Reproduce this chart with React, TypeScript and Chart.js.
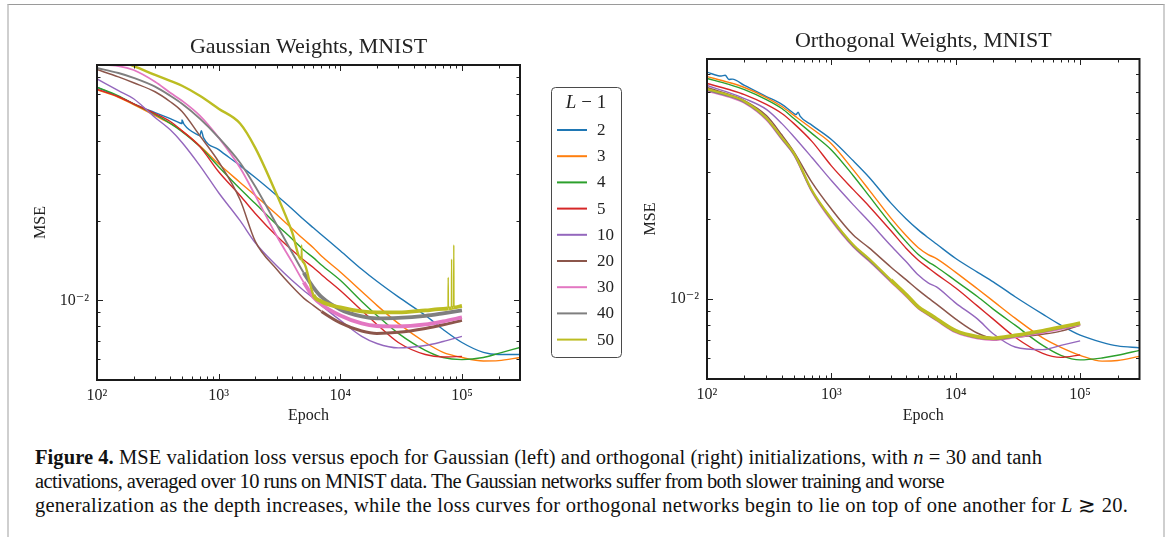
import React, { useEffect, useLayoutEffect, useRef } from "react";
import { Chart, registerables } from "chart.js";

Chart.register(...registerables);

const SERIF = '"Liberation Serif", "Times New Roman", "DejaVu Serif", serif';
const INK = "#222222";

// Epochs at which every validation-loss curve is sampled.
const EPOCHS = [
  100, 150, 200, 300, 400, 500, 700, 1000, 1500, 2000, 3000, 4000, 5000, 6000, 7000,
  10000, 15000, 20000, 30000, 50000, 70000, 100000, 150000, 200000, 300000,
];

const DEPTH_LABELS = ["2", "3", "4", "5", "10", "20", "30", "40", "50"];
const DEPTH_COLORS = [
  "#1f77b4", "#ff7f0e", "#2ca02c", "#d62728", "#9467bd",
  "#8c564b", "#e377c2", "#7f7f7f", "#bcbd22",
];

const X_TICK_EXPONENTS = [2, 3, 4, 5];
const X_TICK_TEXT = ["10²", "10³", "10⁴", "10⁵"];
const Y_TICK_EXPONENTS = [-2];
const Y_TICK_TEXT = ["10⁻²"];

// Gaussian initialisation: MSE per depth (L - 1)
const GAUSS_L2 = [0.0639, 0.0588, 0.0553, 0.0512, 0.0486, 0.0466, 0.0419, 0.0371, 0.0323, 0.0291, 0.0249, 0.0222, 0.0202, 0.0188, 0.0177, 0.0154, 0.0131, 0.0118, 0.0103, 0.00877, 0.00776, 0.00693, 0.00636, 0.00624, 0.00624];
const GAUSS_L3 = [0.0625, 0.0585, 0.0549, 0.0499, 0.0466, 0.0437, 0.0384, 0.0328, 0.0279, 0.0249, 0.0211, 0.0187, 0.0170, 0.0158, 0.0147, 0.0128, 0.0108, 0.00957, 0.00818, 0.00693, 0.00636, 0.00608, 0.00590, 0.00592, 0.00608];
const GAUSS_L4 = [0.0639, 0.0593, 0.0553, 0.0504, 0.0466, 0.0434, 0.0381, 0.0320, 0.0264, 0.0232, 0.0193, 0.0171, 0.0155, 0.0145, 0.0136, 0.0119, 0.00990, 0.00877, 0.00750, 0.00647, 0.00608, 0.00597, 0.00608, 0.00630, 0.00664];
const GAUSS_L5 = [0.0628, 0.0588, 0.0553, 0.0508, 0.0474, 0.0437, 0.0381, 0.0306, 0.0249, 0.0213, 0.0175, 0.0155, 0.0142, 0.0133, 0.0125, 0.0109, 0.00916, 0.00811, 0.00693, 0.00624, 0.00611, 0.00614];
const GAUSS_L10 = [0.0687, 0.0620, 0.0578, 0.0491, 0.0441, 0.0395, 0.0323, 0.0255, 0.0200, 0.0165, 0.0135, 0.0119, 0.0109, 0.0102, 0.00957, 0.00840, 0.00731, 0.00687, 0.00661, 0.00675, 0.00699, 0.00731];
const GAUSS_L20 = [0.0745, 0.0699, 0.0664, 0.0614, 0.0563, 0.0517, 0.0419, 0.0334, 0.0240, 0.0167, 0.0131, 0.0113, 0.0102, 0.00957, 0.00908, 0.00822, 0.00766, 0.00750, 0.00757, 0.00783, 0.00808, 0.00840];
const GAUSS_L30 = [0.0778, 0.0768, 0.0742, 0.0670, 0.0609, 0.0568, 0.0499, 0.0412, 0.0317, 0.0249, 0.0175, 0.0140, 0.0117, 0.0103, 0.00965, 0.00877, 0.00818, 0.00800, 0.00797, 0.00811, 0.00833, 0.00862];
const GAUSS_L40 = [0.0755, 0.0723, 0.0693, 0.0642, 0.0593, 0.0553, 0.0486, 0.0412, 0.0331, 0.0269, 0.0193, 0.0152, 0.0127, 0.0112, 0.0103, 0.00924, 0.00870, 0.00855, 0.00858, 0.00874, 0.00893, 0.00916];
const GAUSS_L50 = [0.0831, 0.0803, 0.0768, 0.0711, 0.0675, 0.0647, 0.0593, 0.0530, 0.0466, 0.0377, 0.0251, 0.0182, 0.0139, 0.0105, 0.00990, 0.00940, 0.00908, 0.00900, 0.00900, 0.00916, 0.00928, 0.00953];
// Isolated loss spikes of the deepest Gaussian network
const GAUSS_L50_SPIKE_EPOCHS = [4760, 4810, 4860, 76800, 77100, 77400, 81900, 82200, 82500, 85400, 85700, 86000];
const GAUSS_L50_SPIKE_MSE = [0.0143, 0.0162, 0.0142, 0.00932, 0.0122, 0.00932, 0.00937, 0.0143, 0.00937, 0.0094, 0.0162, 0.0094];
// Small bumps on the shallowest Gaussian network
const GAUSS_L2_BUMP_EPOCHS = [480, 500, 520, 690, 720, 750];
const GAUSS_L2_BUMP_MSE = [0.0468, 0.0480, 0.0462, 0.0420, 0.0438, 0.0412];

// Orthogonal initialisation: MSE per depth (L - 1)
const ORTHO_L2 = [0.0714, 0.0670, 0.0636, 0.0578, 0.0540, 0.0499, 0.0450, 0.0398, 0.0331, 0.0288, 0.0230, 0.0200, 0.0182, 0.0170, 0.0161, 0.0142, 0.0126, 0.0116, 0.0102, 0.00877, 0.00797, 0.00731, 0.00687, 0.00666, 0.00655];
const ORTHO_L3 = [0.0687, 0.0653, 0.0625, 0.0573, 0.0530, 0.0491, 0.0437, 0.0384, 0.0306, 0.0258, 0.0202, 0.0173, 0.0156, 0.0147, 0.0142, 0.0126, 0.0109, 0.00982, 0.00847, 0.00714, 0.00658, 0.00614, 0.00584, 0.00587, 0.00608];
const ORTHO_L4 = [0.0676, 0.0642, 0.0614, 0.0563, 0.0521, 0.0478, 0.0419, 0.0364, 0.0291, 0.0245, 0.0192, 0.0164, 0.0147, 0.0138, 0.0132, 0.0117, 0.0102, 0.00916, 0.00797, 0.00669, 0.00614, 0.00590, 0.00600, 0.00614, 0.00641];
const ORTHO_L5 = [0.0647, 0.0614, 0.0588, 0.0540, 0.0499, 0.0457, 0.0391, 0.0317, 0.0258, 0.0224, 0.0181, 0.0155, 0.0140, 0.0131, 0.0124, 0.0110, 0.00940, 0.00840, 0.00718, 0.00624, 0.00603, 0.00616];
const ORTHO_L10 = [0.0636, 0.0598, 0.0568, 0.0517, 0.0457, 0.0408, 0.0340, 0.0279, 0.0226, 0.0196, 0.0159, 0.0138, 0.0123, 0.0115, 0.0111, 0.00965, 0.00840, 0.00740, 0.00660, 0.00645, 0.00669, 0.00696];
const ORTHO_L20 = [0.0625, 0.0588, 0.0558, 0.0490, 0.0414, 0.0358, 0.0274, 0.0218, 0.0174, 0.0156, 0.0132, 0.0118, 0.0108, 0.0101, 0.00957, 0.00840, 0.00743, 0.00714, 0.00718, 0.00737, 0.00757, 0.00797];
const ORTHO_L30 = [0.0606, 0.0576, 0.0546, 0.0472, 0.0398, 0.0348, 0.0252, 0.0197, 0.0157, 0.0139, 0.0116, 0.0102, 0.00920, 0.00870, 0.00830, 0.00748, 0.00710, 0.00701, 0.00717, 0.00746, 0.00770, 0.00798];
const ORTHO_L40 = [0.0611, 0.0580, 0.0550, 0.0476, 0.0401, 0.0350, 0.0254, 0.0199, 0.0158, 0.0140, 0.0117, 0.0103, 0.00928, 0.00876, 0.00836, 0.00754, 0.00715, 0.00706, 0.00724, 0.00754, 0.00778, 0.00806];
const ORTHO_L50 = [0.0616, 0.0585, 0.0555, 0.0480, 0.0405, 0.0354, 0.0256, 0.0201, 0.0160, 0.0142, 0.0118, 0.0104, 0.00935, 0.00884, 0.00843, 0.00760, 0.00721, 0.00712, 0.00730, 0.00760, 0.00784, 0.00812];
// Early bumps on the shallowest orthogonal network
const ORTHO_L2_BUMP_EPOCHS = [130, 140, 160, 520, 540, 560];
const ORTHO_L2_BUMP_MSE = [0.0690, 0.0695, 0.0672, 0.0494, 0.0505, 0.0488];

// Caption lines and the right edge each line reaches.
const CAPTION_RIGHT_EDGES = [1042, 944, 1128];

type Stroke = { base: number; flat: number; from: number };
type Extra = { x: number[]; y: number[] };

const GAUSS_STROKES: Stroke[] = [
  { base: 1.4, flat: 1.4, from: 0 },
  { base: 1.4, flat: 1.4, from: 0 },
  { base: 1.4, flat: 1.4, from: 0 },
  { base: 1.4, flat: 1.4, from: 0 },
  { base: 1.4, flat: 1.4, from: 0 },
  { base: 1.5, flat: 3.0, from: 7000 },
  { base: 1.8, flat: 3.8, from: 5000 },
  { base: 1.9, flat: 3.8, from: 5000 },
  { base: 2.4, flat: 3.8, from: 6000 },
];
const ORTHO_STROKES: Stroke[] = [
  { base: 1.4, flat: 1.4, from: 0 },
  { base: 1.4, flat: 1.4, from: 0 },
  { base: 1.4, flat: 1.4, from: 0 },
  { base: 1.4, flat: 1.4, from: 0 },
  { base: 1.4, flat: 1.4, from: 0 },
  { base: 1.5, flat: 1.5, from: 0 },
  { base: 1.6, flat: 1.8, from: 5000 },
  { base: 1.8, flat: 2.2, from: 5000 },
  { base: 2.2, flat: 3.6, from: 3000 },
];

function buildDatasets(series: number[][], strokes: Stroke[], extras: Record<number, Extra>) {
  return series.map((values, i) => {
    const pts = values.map((y, k) => ({ x: EPOCHS[k], y }));
    const ex = extras[i];
    if (ex) ex.x.forEach((x, k) => pts.push({ x, y: ex.y[k] }));
    pts.sort((a, b) => a.x - b.x);
    const s = strokes[i];
    return {
      label: DEPTH_LABELS[i],
      data: pts,
      borderColor: DEPTH_COLORS[i],
      backgroundColor: DEPTH_COLORS[i],
      borderWidth: s.base,
      borderJoinStyle: "round",
      pointRadius: 0,
      fill: false,
      order: series.length - i,
      cubicInterpolationMode: "monotone",
      segment: {
        borderWidth: (ctx: any) => {
          // narrow, sharp excursions (loss spikes) stay thin
          const a = ctx.p0.parsed;
          const b = ctx.p1.parsed;
          const dx = b.x / a.x;
          if (dx < 1.02 && Math.abs(Math.log(b.y / a.y)) > 0.1) return 1.4;
          return a.x >= s.from ? s.flat : s.base;
        },
      },
    };
  });
}

function powerLabel(value: number, exps: number[], texts: string[]) {
  const lg = Math.log10(value);
  const r = Math.round(lg);
  if (Math.abs(lg - r) > 1e-6) return "";
  const idx = exps.indexOf(r);
  return idx >= 0 ? texts[idx] : "";
}

// Inward ticks on all four sides plus the dark axes frame.
const axesFramePlugin = {
  id: "axesFrame",
  afterDatasetsDraw(chart: any) {
    const { ctx, chartArea } = chart;
    const { left, right, top, bottom } = chartArea;
    const xs = chart.scales.x;
    const ys = chart.scales.y;
    const seg = (x1: number, y1: number, x2: number, y2: number) => {
      ctx.beginPath();
      ctx.moveTo(x1, y1);
      ctx.lineTo(x2, y2);
      ctx.stroke();
    };
    ctx.save();
    ctx.strokeStyle = INK;
    ctx.lineWidth = 1;
    for (let e = 2; e <= 5; e++) {
      for (let m = 1; m <= 9; m++) {
        const v = m * Math.pow(10, e);
        if (v <= xs.min || v >= xs.max) continue;
        const px = Math.round(xs.getPixelForValue(v)) + 0.5;
        const len = m === 1 ? 6 : 3.5;
        seg(px, bottom, px, bottom - len);
        seg(px, top, px, top + len);
      }
    }
    for (let e = -3; e <= -1; e++) {
      for (let m = 1; m <= 9; m++) {
        const v = m * Math.pow(10, e);
        if (v <= ys.min || v >= ys.max) continue;
        const py = Math.round(ys.getPixelForValue(v)) + 0.5;
        const len = m === 1 ? 6 : 3.5;
        seg(left, py, left + len, py);
        seg(right, py, right - len, py);
      }
    }
    ctx.lineWidth = 2;
    ctx.strokeStyle = "#1a1a1a";
    ctx.strokeRect(left, top, right - left, bottom - top);
    ctx.restore();
  },
};

const LEGEND_BOX = { x: 551, y: 87, w: 70, h: 270, titleY: 103, firstRow: 130, rowStep: 26.2 };

// Boxed legend with the depth values, placed between the two panels.
const depthLegendPlugin = {
  id: "depthLegend",
  afterDraw(chart: any) {
    const { ctx } = chart;
    const b = LEGEND_BOX;
    ctx.save();
    ctx.beginPath();
    ctx.roundRect(b.x + 0.5, b.y + 0.5, b.w, b.h, 4);
    ctx.fillStyle = "#ffffff";
    ctx.fill();
    ctx.strokeStyle = "#4a4a4a";
    ctx.lineWidth = 1;
    ctx.stroke();

    ctx.fillStyle = INK;
    ctx.textBaseline = "middle";
    ctx.textAlign = "left";
    const italic = `italic 19px ${SERIF}`;
    const upright = `19px ${SERIF}`;
    ctx.font = italic;
    const wL = ctx.measureText("L").width;
    ctx.font = upright;
    const rest = " − 1";
    const wR = ctx.measureText(rest).width;
    const x0 = b.x + b.w / 2 - (wL + wR) / 2;
    ctx.font = italic;
    ctx.fillText("L", x0, b.titleY);
    ctx.font = upright;
    ctx.fillText(rest, x0 + wL, b.titleY);

    ctx.font = `17px ${SERIF}`;
    chart.data.datasets.forEach((ds: any, i: number) => {
      const y = b.firstRow + i * b.rowStep;
      ctx.strokeStyle = ds.borderColor;
      ctx.lineWidth = 2;
      ctx.beginPath();
      ctx.moveTo(b.x + 6, y);
      ctx.lineTo(b.x + 36, y);
      ctx.stroke();
      ctx.fillStyle = INK;
      ctx.fillText(ds.label, b.x + 46, y + 0.5);
    });
    ctx.restore();
  },
};

type PanelProps = {
  title: string;
  datasets: any[];
  yMax: number;
  left: number;
  width: number;
  padLeft: number;
  padRight: number;
  titleTop: number;
  xAxisHeight: number;
  withLegend: boolean;
};

function Panel(p: PanelProps) {
  const ref = useRef<HTMLCanvasElement>(null);
  useEffect(() => {
    const canvas = ref.current;
    if (!canvas) return;
    const chart = new Chart(canvas, {
      type: "line",
      data: { datasets: p.datasets as any },
      options: {
        animation: false,
        responsive: false,
        devicePixelRatio: 1,
        events: [],
        layout: { padding: { left: p.padLeft, right: p.padRight, top: 0, bottom: 0 } },
        plugins: {
          legend: { display: false },
          tooltip: { enabled: false },
          title: {
            display: true,
            text: p.title,
            fullSize: false,
            color: INK,
            font: { family: SERIF, size: 22, weight: "normal", lineHeight: 1.2 },
            padding: { top: p.titleTop, bottom: 4.5 },
          },
        },
        scales: {
          x: {
            type: "logarithmic",
            min: 100,
            max: 300000,
            afterFit: (s: any) => {
              s.height = p.xAxisHeight;
            },
            grid: { display: false, drawTicks: false },
            border: { display: false },
            ticks: {
              autoSkip: false,
              maxRotation: 0,
              minRotation: 0,
              padding: 6,
              color: INK,
              font: { family: SERIF, size: 16 },
              callback: (v: any) => powerLabel(Number(v), X_TICK_EXPONENTS, X_TICK_TEXT),
            },
            title: {
              display: true,
              text: "Epoch",
              color: INK,
              font: { family: SERIF, size: 16, lineHeight: 1.2 },
              padding: { top: 0, bottom: 14.4 },
            },
          },
          y: {
            type: "logarithmic",
            min: 0.005,
            max: p.yMax,
            afterFit: (s: any) => {
              s.width = 77;
            },
            grid: { display: false, drawTicks: false },
            border: { display: false },
            ticks: {
              autoSkip: false,
              padding: 8,
              color: INK,
              font: { family: SERIF, size: 16 },
              callback: (v: any) => powerLabel(Number(v), Y_TICK_EXPONENTS, Y_TICK_TEXT),
            },
            title: {
              display: true,
              text: "MSE",
              color: INK,
              font: { family: SERIF, size: 16, lineHeight: 1.2 },
              padding: { top: 11.4, bottom: 0 },
            },
          },
        },
      } as any,
      plugins: p.withLegend ? [axesFramePlugin, depthLegendPlugin] : [axesFramePlugin],
    });
    return () => chart.destroy();
  }, []);
  return (
    <canvas
      ref={ref}
      width={p.width}
      height={440}
      style={{ position: "absolute", left: p.left, top: 0, width: p.width, height: 440 }}
    />
  );
}

const CAPTION_LEFT = 35;

function Caption() {
  const lineRefs = [useRef<HTMLSpanElement>(null), useRef<HTMLSpanElement>(null), useRef<HTMLSpanElement>(null)];
  useLayoutEffect(() => {
    // stretch or tighten each line so it ends where the typeset caption ends
    lineRefs.forEach((r, i) => {
      const el = r.current;
      if (!el) return;
      el.style.letterSpacing = "0px";
      const natural = el.getBoundingClientRect().width;
      const chars = (el.textContent || "").length;
      const target = CAPTION_RIGHT_EDGES[i] - CAPTION_LEFT;
      if (chars > 1) el.style.letterSpacing = `${(target - natural) / chars}px`;
    });
  }, []);
  const lineStyle: React.CSSProperties = { display: "inline-block", whiteSpace: "nowrap" };
  return (
    <div
      style={{
        position: "absolute",
        left: CAPTION_LEFT,
        top: 445,
        font: `20.5px ${SERIF}`,
        lineHeight: "24px",
        color: "#111",
      }}
    >
      <div>
        <span ref={lineRefs[0]} style={lineStyle}>
          <b>Figure 4.</b> MSE validation loss versus epoch for Gaussian (left) and orthogonal (right) initializations, with <i>n</i> = 30 and tanh
        </span>
      </div>
      <div>
        <span ref={lineRefs[1]} style={lineStyle}>
          activations, averaged over 10 runs on MNIST data. The Gaussian networks suffer from both slower training and worse
        </span>
      </div>
      <div>
        <span ref={lineRefs[2]} style={lineStyle}>
          generalization as the depth increases, while the loss curves for orthogonal networks begin to lie on top of one another for <i>L</i> ≳ 20.
        </span>
      </div>
    </div>
  );
}

export default function App() {
  const gaussian = buildDatasets(
    [GAUSS_L2, GAUSS_L3, GAUSS_L4, GAUSS_L5, GAUSS_L10, GAUSS_L20, GAUSS_L30, GAUSS_L40, GAUSS_L50],
    GAUSS_STROKES,
    {
      0: { x: GAUSS_L2_BUMP_EPOCHS, y: GAUSS_L2_BUMP_MSE },
      8: { x: GAUSS_L50_SPIKE_EPOCHS, y: GAUSS_L50_SPIKE_MSE },
    }
  );
  const orthogonal = buildDatasets(
    [ORTHO_L2, ORTHO_L3, ORTHO_L4, ORTHO_L5, ORTHO_L10, ORTHO_L20, ORTHO_L30, ORTHO_L40, ORTHO_L50],
    ORTHO_STROKES,
    { 0: { x: ORTHO_L2_BUMP_EPOCHS, y: ORTHO_L2_BUMP_MSE } }
  );
  return (
    <div style={{ position: "absolute", left: 0, top: 0, width: 1168, height: 537, background: "#fff", overflow: "hidden" }}>
      <div
        style={{
          position: "absolute",
          left: 7,
          top: 4,
          width: 1158,
          height: 560,
          boxSizing: "border-box",
          borderTop: "1px solid #9a9a9a",
          borderLeft: "2px solid #cfcfcf",
          borderRight: "2px solid #cfcfcf",
        }}
      />
      <Panel
        title="Gaussian Weights, MNIST"
        datasets={gaussian}
        yMax={0.0775}
        left={0}
        width={630}
        padLeft={20}
        padRight={110}
        titleTop={34.1}
        xAxisHeight={60}
        withLegend={true}
      />
      <Panel
        title="Orthogonal Weights, MNIST"
        datasets={orthogonal}
        yMax={0.08}
        left={600}
        width={568}
        padLeft={30}
        padRight={28.5}
        titleTop={28.1}
        xAxisHeight={61}
        withLegend={false}
      />
      <Caption />
    </div>
  );
}
